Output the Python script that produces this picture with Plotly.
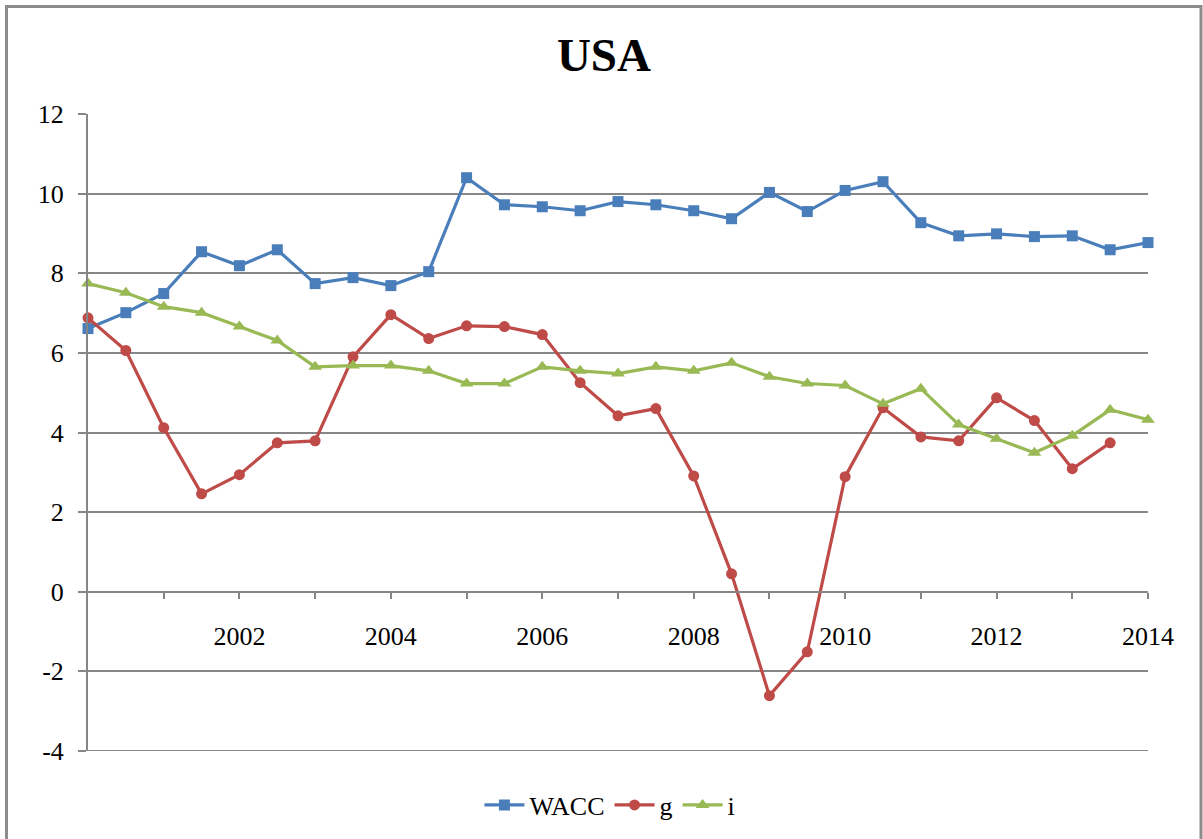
import plotly.graph_objects as go

periods = [2000.0, 2000.5, 2001.0, 2001.5, 2002.0, 2002.5, 2003.0, 2003.5, 2004.0, 2004.5,
           2005.0, 2005.5, 2006.0, 2006.5, 2007.0, 2007.5, 2008.0, 2008.5, 2009.0, 2009.5,
           2010.0, 2010.5, 2011.0, 2011.5, 2012.0, 2012.5, 2013.0, 2013.5, 2014.0]

wacc = [6.61, 7.01, 7.49, 8.54, 8.19, 8.59, 7.74, 7.89, 7.69, 8.04,
        10.40, 9.72, 9.67, 9.57, 9.80, 9.72, 9.57, 9.37, 10.03, 9.55,
        10.08, 10.30, 9.27, 8.94, 8.99, 8.92, 8.94, 8.59, 8.77]

g = [6.88, 6.06, 4.12, 2.46, 2.94, 3.74, 3.79, 5.90, 6.96, 6.36,
     6.68, 6.66, 6.46, 5.25, 4.42, 4.60, 2.91, 0.45, -2.61, -1.51,
     2.89, 4.62, 3.89, 3.79, 4.87, 4.30, 3.09, 3.74, None]

i_rate = [7.74, 7.51, 7.16, 7.01, 6.66, 6.31, 5.65, 5.68, 5.68, 5.55,
          5.23, 5.23, 5.65, 5.55, 5.48, 5.65, 5.55, 5.75, 5.40, 5.23,
          5.18, 4.72, 5.10, 4.20, 3.84, 3.49, 3.92, 4.57, 4.32]

tick_years = [2001, 2002, 2003, 2004, 2005, 2006, 2007, 2008, 2009, 2010, 2011, 2012, 2013, 2014]
tick_text = ["", "2002", "", "2004", "", "2006", "", "2008", "", "2010", "", "2012", "", "2014"]
y_ticks = [-4, -2, 0, 2, 4, 6, 8, 10, 12]
y_tick_text = ["-4", "-2", "0", "2", "4", "6", "8", "10", "12"]

FONT = "Liberation Serif, Times New Roman, serif"
GRID = "#868686"

W, H = 1203, 839
ML, MR, MT, MB = 88, 55, 114, 88
YMIN, YMAX = -4, 12

fig = go.Figure()
fig.add_trace(go.Scatter(x=periods, y=wacc, name="WACC", mode="lines+markers",
                         line=dict(color="#4A7EBB", width=3.2),
                         marker=dict(symbol="square", size=11, color="#4A7EBB"),
                         cliponaxis=False))
fig.add_trace(go.Scatter(x=periods, y=g, name="g", mode="lines+markers",
                         line=dict(color="#BE4B48", width=3.2),
                         marker=dict(symbol="circle", size=11, color="#BE4B48"),
                         cliponaxis=False))
fig.add_trace(go.Scatter(x=periods, y=i_rate, name="i", mode="lines+markers",
                         line=dict(color="#98B954", width=3.2),
                         marker=dict(symbol="triangle-up", size=12, color="#98B954"),
                         cliponaxis=False))

pw = W - ML - MR
ph = H - MT - MB

fig.update_layout(
    width=W, height=H,
    margin=dict(l=ML, r=MR, t=MT, b=MB, pad=0, autoexpand=False),
    paper_bgcolor="white", plot_bgcolor="white",
    font=dict(family=FONT, size=26, color="black"),
    title=dict(text="<b>USA</b>", font=dict(family=FONT, size=47, color="black"),
               x=0.502, xanchor="center", xref="container",
               y=1 - 55 / H, yanchor="middle", yref="container"),
    showlegend=True,
    legend=dict(orientation="h", x=0.507, xanchor="center", xref="container",
                y=-(805 - (H - MB)) / ph, yanchor="middle", yref="paper",
                font=dict(family=FONT, size=26), itemwidth=40,
                bgcolor="rgba(0,0,0,0)"),
    xaxis=dict(range=[2000, 2014], anchor="free", position=(0 - YMIN) / (YMAX - YMIN),
               showgrid=False, zeroline=False, showline=True, linecolor=GRID, linewidth=2,
               tickmode="array", tickvals=tick_years, ticktext=tick_text,
               ticks="outside", ticklen=6, tickwidth=2, tickcolor=GRID,
               ticklabelstandoff=15, tickfont=dict(family=FONT, size=26)),
    yaxis=dict(range=[YMIN, YMAX], tickmode="array", tickvals=y_ticks, ticktext=y_tick_text,
               showgrid=True, gridcolor=GRID, gridwidth=2, zeroline=False,
               showline=True, linecolor=GRID, linewidth=2,
               ticks="outside", ticklen=8, tickwidth=2, tickcolor=GRID,
               ticklabelstandoff=9, tickfont=dict(family=FONT, size=26)),
)

# bottom gridline at the axis minimum (plotly suppresses it at the edge)
fig.add_shape(type="line", xref="paper", yref="y", x0=0, x1=1, y0=YMIN, y1=YMIN,
              line=dict(color=GRID, width=2), layer="below")

# outer chart border (as in the spreadsheet chart frame)
fig.add_shape(type="rect", xref="paper", yref="paper",
              x0=(6.5 - ML) / pw, x1=(1201 - ML) / pw,
              y0=-(H + 20 - MT - ph) / ph, y1=1 + (MT - 6.5) / ph,
              line=dict(color="#8C8C8C", width=3), fillcolor="rgba(0,0,0,0)", layer="below")

fig.write_html("out.html", config={"displayModeBar": False},
               post_script="document.body.style.margin='0';")
